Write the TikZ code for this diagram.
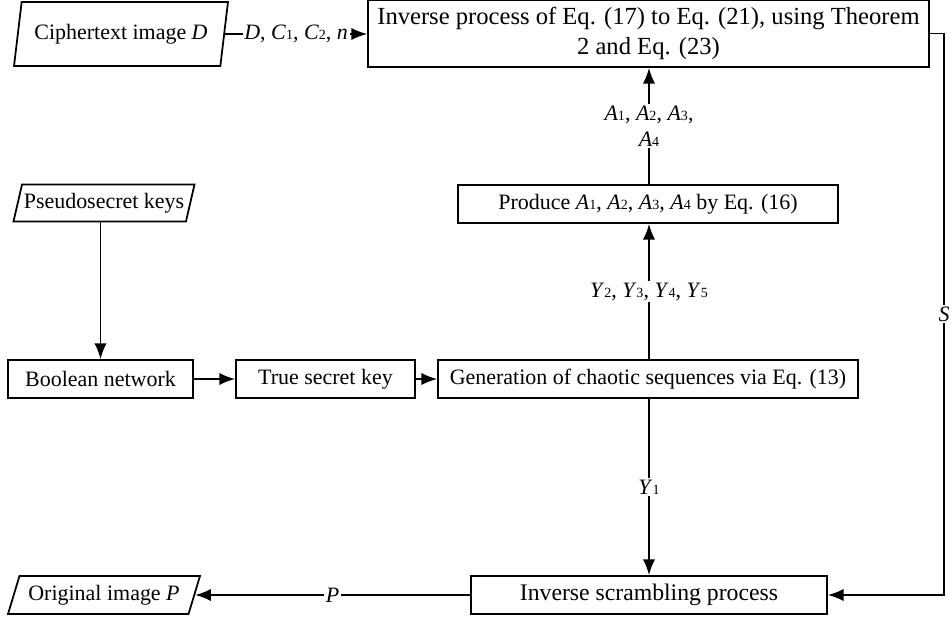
\documentclass[tikz,border=0pt]{standalone}
\usepackage{fontspec}
\setmainfont{Liberation Serif}
\usetikzlibrary{shapes.geometric,arrows.meta}
\newcommand{\vsub}[2]{\textit{#1}{\footnotesize #2}}

\begin{document}
\begin{tikzpicture}[x=0.02cm, y=-0.02cm,
		>={Latex[length=9pt,width=7pt]},   % Pfeilspitzen
		font=\fontsize{12.5}{15}\selectfont, line width=1pt,
		proc/.style={draw, rectangle, inner sep=2pt, minimum height=0.76cm},
		io/.style={draw, trapezium, trapezium left angle=#1, trapezium right angle=180-#1,
			trapezium stretches body, inner sep=1pt, minimum height=0.76cm},
		lbl/.style={fill=white, inner sep=1pt}]
	\useasboundingbox (0,0) rectangle (952,621);
	% Ein- und Ausgaben
	\node[io=72, minimum width=4.28cm, minimum height=1.28cm] (cipher) at (121,34) {Ciphertext image \textit{D}};
	\node[io=70, minimum width=3.58cm, minimum height=0.74cm] (pseudo) at (104,203) {Pseudosecret keys};
	\node[io=64, minimum width=3.84cm] (orig) at (104,595) {Original image \textit{P}};
	% Prozesse
	\node[proc, minimum width=11.22cm, minimum height=1.34cm, align=center, font=\fontsize{14}{17}\selectfont] (inv) at (648.5,33.5)
		{Inverse process of Eq. (17) to Eq. (21), using Theorem\\2 and Eq. (23)};
	\node[proc, minimum width=7.6cm] (prod) at (648,204) {Produce \vsub{A}{1}, \vsub{A}{2}, \vsub{A}{3}, \vsub{A}{4} by Eq. (16)};
	\node[proc, minimum width=3.7cm] (bool) at (100.5,379) {Boolean network};
	\node[proc, minimum width=3.58cm] (true) at (325.5,379) {True secret key};
	\node[proc, minimum width=8.4cm] (gen) at (648,379) {Generation of chaotic sequences via Eq. (13)};
	\node[proc, minimum width=7.12cm, font=\fontsize{13.5}{16}\selectfont] (scr) at (649,595) {Inverse scrambling process};
	\coordinate (sturn) at (944,33.5);
	% Verbindungen
	\draw[->] (cipher) -- node[lbl] {\textit{D}, \vsub{C}{1}, \vsub{C}{2}, \textit{n}} (cipher -| inv.west);
	\draw[->] (gen.north -| scr.north) -- node[lbl] {\vsub{Y}{2}, \vsub{Y}{3}, \vsub{Y}{4}, \vsub{Y}{5}} (prod.south -| scr.north);
	\draw[->] (prod.north -| scr.north) -- node[lbl, align=center] {\vsub{A}{1}, \vsub{A}{2}, \vsub{A}{3},\\\vsub{A}{4}} (inv.south -| scr.north);
	\draw[->] (bool.north |- pseudo.south) -- (bool.north);
	\draw[->] (bool) -- (true);
	\draw[->] (true) -- (gen);
	\draw[->] (gen.south -| scr.north) -- node[lbl] {\vsub{Y}{1}} (scr.north);
	\draw[->] (scr) -- node[lbl] {\textit{P}} (orig);
	\draw[->] (inv.east) -- (sturn) |- node[lbl, pos=0.25] {\textit{S}} (scr.east);
\end{tikzpicture}
\end{document}
